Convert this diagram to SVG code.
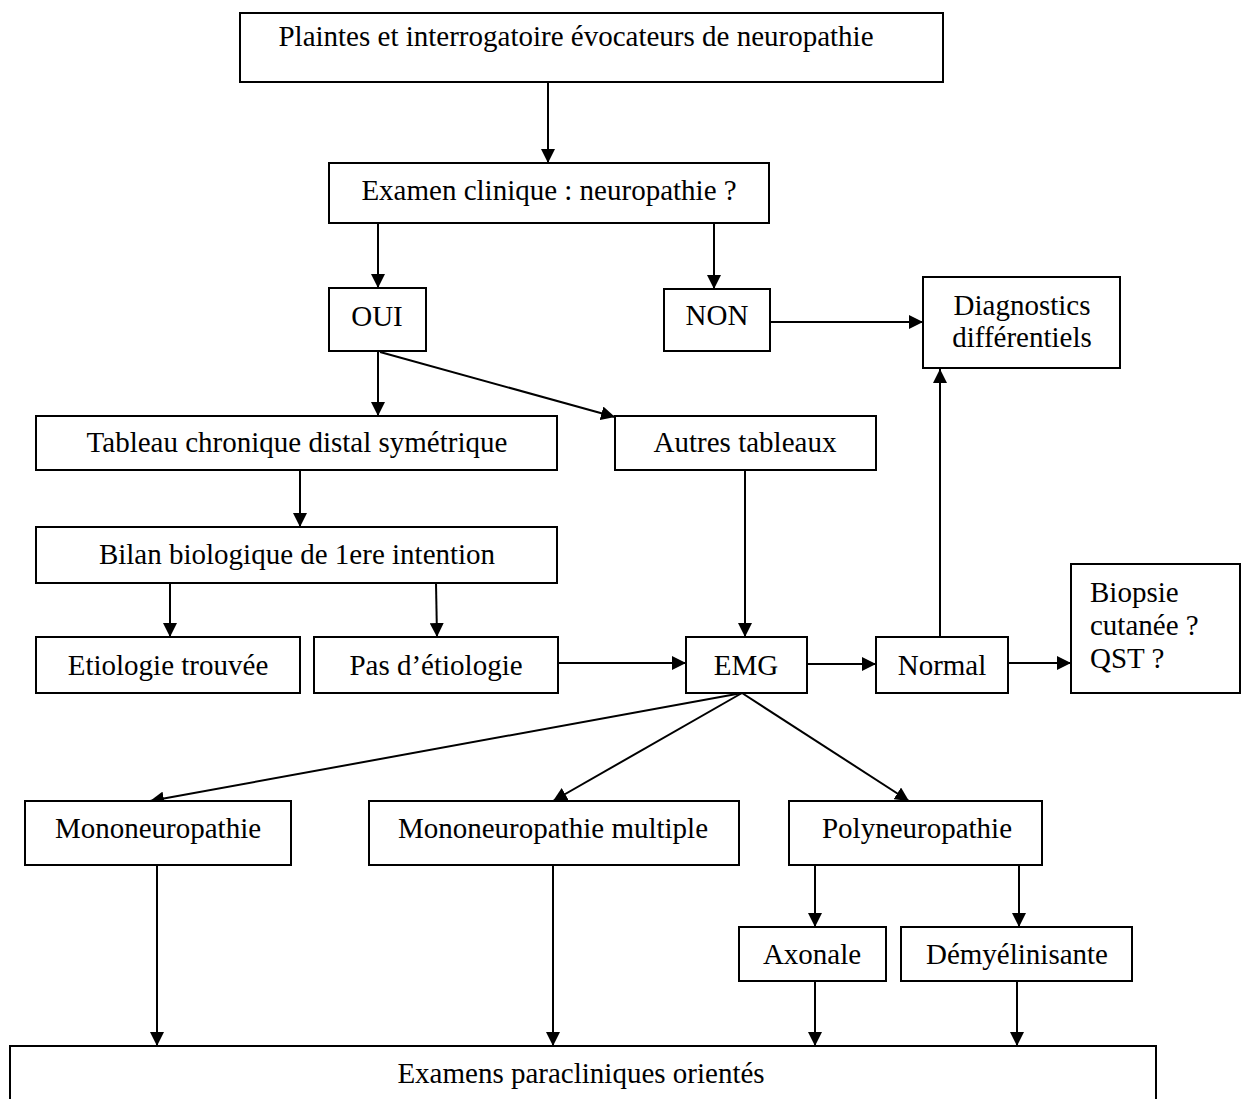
<svg xmlns="http://www.w3.org/2000/svg" width="1248" height="1099" viewBox="0 0 1248 1099">
<style>
.box{fill:#fff;stroke:#000;stroke-width:2}
.t{font-family:"Liberation Serif","Times New Roman",serif;font-size:29px;fill:#000;text-anchor:middle}
.tl{font-family:"Liberation Serif","Times New Roman",serif;font-size:29px;fill:#000;text-anchor:start}
.c{stroke:#000;stroke-width:2;fill:none;marker-end:url(#ah)}
</style>
<defs>
<marker id="ah" markerUnits="userSpaceOnUse" markerWidth="14" markerHeight="14" refX="14" refY="7" orient="auto" viewBox="0 0 14 14">
<path d="M0,0 L14,7 L0,14 z" fill="#000"/>
</marker>
</defs>
<rect width="1248" height="1099" fill="#fff"/>
<g id="connectors">
<line class="c" x1="548" y1="82" x2="548" y2="163"/>
<line class="c" x1="378" y1="223" x2="378" y2="288"/>
<line class="c" x1="714" y1="223" x2="714" y2="289"/>
<line class="c" x1="770" y1="322" x2="923" y2="322"/>
<line class="c" x1="378" y1="352" x2="378" y2="416"/>
<line class="c" x1="380" y1="352" x2="615" y2="417"/>
<line class="c" x1="300" y1="470" x2="300" y2="527"/>
<line class="c" x1="170" y1="583" x2="170" y2="637"/>
<line class="c" x1="436" y1="583" x2="437" y2="637"/>
<line class="c" x1="558" y1="663" x2="686" y2="663"/>
<line class="c" x1="745" y1="470" x2="745" y2="637"/>
<line class="c" x1="807" y1="664" x2="876" y2="664"/>
<line class="c" x1="940" y1="637" x2="940" y2="369"/>
<line class="c" x1="1008" y1="663" x2="1071" y2="663"/>
<line class="c" x1="742" y1="693" x2="150" y2="801"/>
<line class="c" x1="742" y1="693" x2="553" y2="801"/>
<line class="c" x1="742" y1="693" x2="909" y2="801"/>
<line class="c" x1="815" y1="865" x2="815" y2="927"/>
<line class="c" x1="1019" y1="865" x2="1019" y2="927"/>
<line class="c" x1="157" y1="865" x2="157" y2="1046"/>
<line class="c" x1="553" y1="865" x2="553" y2="1046"/>
<line class="c" x1="815" y1="981" x2="815" y2="1046"/>
<line class="c" x1="1017" y1="981" x2="1017" y2="1046"/>
</g>
<g id="n-plaintes"><rect class="box" x="240" y="13" width="703" height="69"/><text class="t" x="576" y="46">Plaintes et interrogatoire évocateurs de neuropathie</text></g>
<g id="n-examen"><rect class="box" x="329" y="163" width="440" height="60"/><text class="t" x="549" y="200">Examen clinique : neuropathie ?</text></g>
<g id="n-oui"><rect class="box" x="329" y="288" width="97" height="63"/><text class="t" x="377" y="326">OUI</text></g>
<g id="n-non"><rect class="box" x="664" y="289" width="106" height="62"/><text class="t" x="717" y="325">NON</text></g>
<g id="n-diag"><rect class="box" x="923" y="277" width="197" height="91"/><text class="t" x="1022" y="315">Diagnostics</text><text class="t" x="1022" y="347">différentiels</text></g>
<g id="n-tableau"><rect class="box" x="36" y="416" width="521" height="54"/><text class="t" x="297" y="452">Tableau chronique distal symétrique</text></g>
<g id="n-autres"><rect class="box" x="615" y="416" width="261" height="54"/><text class="t" x="745" y="452">Autres tableaux</text></g>
<g id="n-bilan"><rect class="box" x="36" y="527" width="521" height="56"/><text class="t" x="297" y="564">Bilan biologique de 1ere intention</text></g>
<g id="n-etio"><rect class="box" x="36" y="637" width="264" height="56"/><text class="t" x="168" y="675">Etiologie trouvée</text></g>
<g id="n-pas"><rect class="box" x="314" y="637" width="244" height="56"/><text class="t" x="436" y="675">Pas d’étiologie</text></g>
<g id="n-emg"><rect class="box" x="686" y="637" width="121" height="56"/><text class="t" x="746" y="675">EMG</text></g>
<g id="n-normal"><rect class="box" x="876" y="637" width="132" height="56"/><text class="t" x="942" y="675">Normal</text></g>
<g id="n-biopsie"><rect class="box" x="1071" y="564" width="169" height="129"/><text class="tl" x="1090" y="602">Biopsie</text><text class="tl" x="1090" y="635">cutanée ?</text><text class="tl" x="1090" y="668">QST ?</text></g>
<g id="n-mono"><rect class="box" x="25" y="801" width="266" height="64"/><text class="t" x="158" y="838">Mononeuropathie</text></g>
<g id="n-monomult"><rect class="box" x="369" y="801" width="370" height="64"/><text class="t" x="553" y="838">Mononeuropathie multiple</text></g>
<g id="n-poly"><rect class="box" x="789" y="801" width="253" height="64"/><text class="t" x="917" y="838">Polyneuropathie</text></g>
<g id="n-axonale"><rect class="box" x="739" y="927" width="147" height="54"/><text class="t" x="812" y="964">Axonale</text></g>
<g id="n-demy"><rect class="box" x="901" y="927" width="231" height="54"/><text class="t" x="1017" y="964">Démyélinisante</text></g>
<g id="n-examens"><rect class="box" x="10" y="1046" width="1146" height="70"/><text class="t" x="581" y="1083">Examens paracliniques orientés</text></g>
</svg>
